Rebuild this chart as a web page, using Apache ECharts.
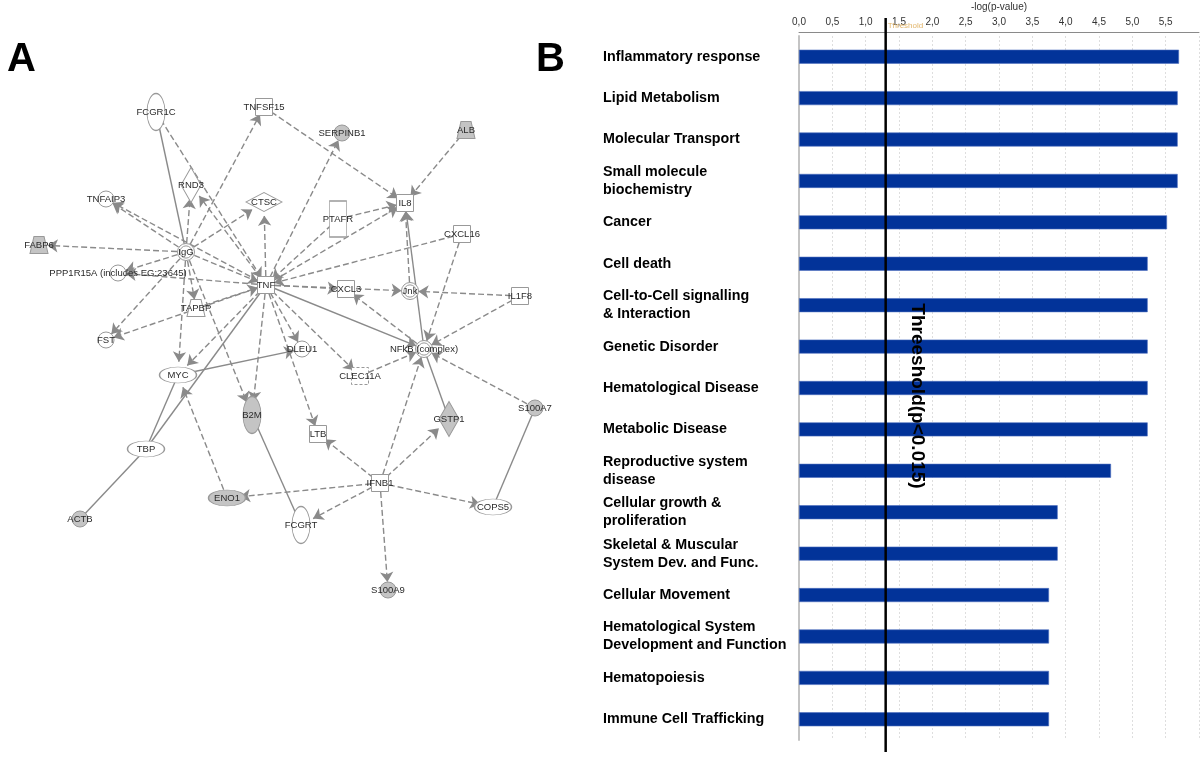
<!DOCTYPE html>
<html><head><meta charset="utf-8">
<script src="https://cdn.jsdelivr.net/npm/echarts@6/dist/echarts.min.js"></script>
<style>html,body{margin:0;padding:0;background:#fff}#c{width:1200px;height:759px}</style>
</head><body><div id="c"></div>
<script>
// ---------- Panel B data ----------
const categories = [
  'Inflammatory response', 'Lipid Metabolism', 'Molecular Transport',
  'Small molecule\nbiochemistry', 'Cancer', 'Cell death',
  'Cell-to-Cell signalling\n& Interaction', 'Genetic Disorder', 'Hematological Disease',
  'Metabolic Disease', 'Reproductive system\ndisease', 'Cellular growth &\nproliferation',
  'Skeletal & Muscular\nSystem Dev. and Func.', 'Cellular Movement',
  'Hematological System\nDevelopment and Function', 'Hematopoiesis', 'Immune Cell Trafficking'
];
const values = [5.70, 5.68, 5.68, 5.68, 5.52, 5.23, 5.23, 5.23, 5.23, 5.23, 4.68, 3.88, 3.88, 3.75, 3.75, 3.75, 3.75];
const thresholdValue = 1.3;
const axisTitle = '-log(p-value)';
const thresholdTag = 'Threshold';
const thresholdNote = 'Threeshold(p<0.015)';
const panelLabels = ['A', 'B'];

// ---------- Panel A data (network) ----------
const nodeNames = ['FCGR1C','TNFSF15','SERPINB1','ALB','RND3','TNFAIP3','CTSC','PTAFR','IL8','CXCL16',
  'FABP6','IgG','PPP1R15A (includes EG:23645)','TNF','CXCL3','Jnk','IL1F8','TAPBP','FST','DLEU1',
  'NFkB (complex)','MYC','CLEC11A','S100A7','B2M','GSTP1','LTB','TBP','IFNB1','ENO1','COPS5','FCGRT','ACTB','S100A9'];
const nodeKinds = ['receptor','cytokine','other','transporter','enzyme','other','peptidase','gpcr','cytokine','cytokine',
  'transporter','complex','other','cytokine','cytokine','complex','cytokine','transporter','other','other',
  'complex','regulator','growth','other','receptor','enzyme','cytokine','regulator','cytokine','regulator','regulator','receptor','other','other'];
const nodeInDataset = [0,0,1,1,0,0,0,0,0,0, 1,0,0,0,0,0,0,0,0,0, 0,0,0,1,1,1,0,0,0,1,0,0,1,1];
const nodeLayout = [[156,112],[264,107],[342,133],[466,130],[191,185],[106,199],[264,202],[338,219],[405,203],[462,234],
  [39,245],[186,252],[118,273],[266,285],[346,289],[410,291],[520,296],[196,308],[106,340],[302,349],
  [424,349],[178,375],[360,376],[535,408],[252,415],[449,419],[318,434],[146,449],[380,483],[227,498],[493,507],[301,525],[80,519],[388,590]];
// [source, target, relation ('d' indirect / 's' direct), arrow]
const links = [
  ['IgG','TNFAIP3','d',1],['IgG','FABP6','d',1],['IgG','PPP1R15A (includes EG:23645)','d',1],['IgG','RND3','d',1],
  ['IgG','CTSC','d',1],['IgG','TNFSF15','d',1],['IgG','TAPBP','d',1],['IgG','TNF','d',1],['IgG','FST','d',1],
  ['IgG','MYC','d',1],['IgG','B2M','d',1],['FCGR1C','IgG','s',0],['FCGR1C','TNF','d',1],
  ['TNF','TNFAIP3','d',1],['TNF','PPP1R15A (includes EG:23645)','d',1],['TNF','RND3','d',1],['TNF','CTSC','d',1],
  ['TNF','SERPINB1','d',1],['TNF','IL8','d',1],['PTAFR','TNF','d',1],['PTAFR','IL8','d',1],['TNFSF15','IL8','d',1],
  ['ALB','IL8','d',1],['CXCL16','TNF','d',1],['CXCL16','NFkB (complex)','d',1],['TNF','CXCL3','d',1],['TNF','Jnk','d',1],
  ['IL1F8','Jnk','d',1],['IL1F8','NFkB (complex)','d',1],['NFkB (complex)','CXCL3','d',1],['Jnk','IL8','d',1],
  ['NFkB (complex)','IL8','s',1],['TNF','NFkB (complex)','s',1],['TAPBP','TNF','d',1],['TNF','FST','d',1],
  ['TNF','MYC','d',1],['TNF','TBP','s',0],['TNF','B2M','d',1],['TNF','DLEU1','d',1],['TNF','LTB','d',1],
  ['TNF','CLEC11A','d',1],['CLEC11A','NFkB (complex)','d',1],['MYC','TBP','s',0],['MYC','DLEU1','s',1],
  ['TBP','ACTB','s',0],['ENO1','MYC','d',1],['IFNB1','ENO1','d',1],['B2M','FCGRT','s',0],['IFNB1','FCGRT','d',1],
  ['IFNB1','LTB','d',1],['IFNB1','NFkB (complex)','d',1],['IFNB1','GSTP1','d',1],['IFNB1','COPS5','d',1],
  ['IFNB1','S100A9','d',1],['S100A7','COPS5','s',0],['S100A7','NFkB (complex)','d',1],['NFkB (complex)','GSTP1','s',0]
];

// ---------- styling ----------
const ELLIPSE = 'path://M0,50A50,50,0,1,1,100,50A50,50,0,1,1,0,50Z';
const TRAP = 'path://M22,0L78,0L100,100L0,100Z';
const DOUBLE = 'path://M0,50A50,50,0,1,1,100,50A50,50,0,1,1,0,50ZM14,50A36,36,0,1,1,86,50A36,36,0,1,1,14,50Z';
const kindStyle = {
  receptor: {symbol: ELLIPSE, size: [18, 37]},
  cytokine: {symbol: 'rect', size: [17, 17]},
  other: {symbol: 'circle', size: 16},
  transporter: {symbol: TRAP, size: [18, 17]},
  enzyme: {symbol: 'diamond', size: [20, 35]},
  peptidase: {symbol: 'diamond', size: [36, 19]},
  gpcr: {symbol: 'rect', size: [17, 36]},
  complex: {symbol: DOUBLE, size: 17},
  regulator: {symbol: ELLIPSE, size: [37, 16]},
  growth: {symbol: 'rect', size: [17, 17], dashed: true}
};
const nodes = nodeNames.map((n, i) => {
  const k = kindStyle[nodeKinds[i]];
  return {
    name: n, value: nodeLayout[i], symbol: k.symbol, symbolSize: k.size,
    itemStyle: {color: nodeInDataset[i] ? '#c4c4c4' : '#ffffff', borderColor: '#999999', borderWidth: 1,
      borderType: k.dashed ? [3, 2] : 'solid'}
  };
});
const edges = links.map(l => ({
  source: l[0], target: l[1],
  symbol: ['none', l[3] ? 'arrow' : 'none'],
  lineStyle: {type: l[2] === 'd' ? [6, 3] : 'solid', width: 1.4}
}));

const chart = echarts.init(document.getElementById('c'), null, {renderer: 'canvas'});
const FONT = 'Liberation Sans, Arial, sans-serif';
chart.setOption({
  animation: false,
  backgroundColor: '#ffffff',
  grid: [
    {left: 0, top: 0, width: 600, height: 759, outerBoundsMode: 'none'},
    {left: 799, top: 36, width: 400, height: 704, outerBoundsMode: 'none', containLabel: false}
  ],
  xAxis: [
    {gridIndex: 0, type: 'value', min: 0, max: 600, show: false},
    {gridIndex: 1, type: 'value', position: 'top', min: 0, max: 6, interval: 0.5, offset: 4,
      name: axisTitle, nameLocation: 'middle', nameGap: 18,
      nameTextStyle: {fontSize: 10, color: '#333', fontFamily: FONT},
      axisLine: {show: true, lineStyle: {color: '#8a8a8a', width: 1}},
      axisTick: {show: false},
      axisLabel: {fontSize: 10, color: '#333', margin: 5, fontFamily: FONT,
        formatter: v => v >= 6 ? '' : v.toFixed(1).replace('.', ',')},
      splitLine: {show: true, lineStyle: {color: '#dedede', type: [2, 2], width: 1}}}
  ],
  yAxis: [
    {gridIndex: 0, type: 'value', min: 0, max: 759, inverse: true, show: false},
    {gridIndex: 1, type: 'category', inverse: true, data: categories,
      axisLine: {show: true, lineStyle: {color: '#c4c4c4', width: 2}},
      axisTick: {show: false},
      axisLabel: {align: 'left', margin: 196, fontSize: 14.3, fontWeight: 'bold', color: '#000',
        fontFamily: FONT, lineHeight: 18, padding: [0, 0, 7, 0]},
      splitLine: {show: false}}
  ],
  series: [
    {type: 'graph', coordinateSystem: 'cartesian2d', xAxisIndex: 0, yAxisIndex: 0,
      data: nodes, links: edges, edgeSymbol: ['none', 'arrow'], edgeSymbolSize: [4, 10],
      lineStyle: {color: '#8a8a8a', opacity: 1, curveness: 0},
      label: {show: true, position: 'inside', fontSize: 9.5, color: '#2a2a2a', fontFamily: FONT},
      emphasis: {disabled: true}, z: 2},
    {type: 'bar', xAxisIndex: 1, yAxisIndex: 1, data: values, barWidth: 14,
      itemStyle: {color: '#023399', borderColor: '#4d6fbf', borderWidth: 0.6}, z: 2}
  ]
});

const tx = chart.convertToPixel({xAxisIndex: 1}, thresholdValue);
chart.setOption({
  graphic: [
    {type: 'line', shape: {x1: tx, y1: 18, x2: tx, y2: 752}, style: {stroke: '#000', lineWidth: 2.5}, z: 10},
    {type: 'text', x: tx + 2, y: 26, style: {text: thresholdTag, fontSize: 8, fill: '#e2b56a', fontFamily: FONT,
      textVerticalAlign: 'middle'}, z: 11},
    {type: 'text', x: tx + 32, y: 396, rotation: -Math.PI / 2,
      style: {text: thresholdNote, fontSize: 19, fontWeight: 'bold', fill: '#000', fontFamily: FONT,
        textAlign: 'center', textVerticalAlign: 'middle'}, z: 11},
    {type: 'text', x: 7, y: 60, style: {text: panelLabels[0], fontSize: 40, fontWeight: 'bold', fill: '#000',
      fontFamily: FONT, textVerticalAlign: 'middle'}},
    {type: 'text', x: 536, y: 60, style: {text: panelLabels[1], fontSize: 40, fontWeight: 'bold', fill: '#000',
      fontFamily: FONT, textVerticalAlign: 'middle'}}
  ]
});
</script></body></html>
